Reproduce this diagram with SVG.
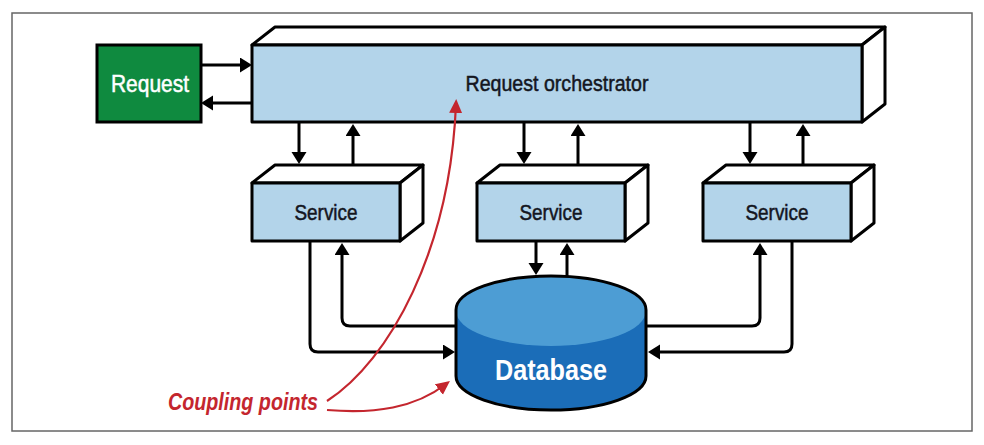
<svg xmlns="http://www.w3.org/2000/svg" width="984" height="445" viewBox="0 0 984 445">
<style>
.box{fill:#b3d4ea;stroke:#000;stroke-width:3;stroke-linejoin:round}
.face{fill:#fff;stroke:#000;stroke-width:3;stroke-linejoin:round}
.lbl{font-family:"Liberation Sans",Arial,sans-serif;fill:#14161f;stroke:#14161f;stroke-width:0.5;text-anchor:middle}
.con{fill:none;stroke:#000;stroke-width:3;stroke-linejoin:round}
.red{fill:none;stroke:#c4262e;stroke-width:2.2}
</style>
<defs>
<marker id="ah" markerUnits="userSpaceOnUse" markerWidth="13" markerHeight="16" refX="8" refY="7.5" orient="auto">
<path d="M0,0 L12,7.5 L0,15 Z" fill="#000"/>
</marker>
<marker id="rh" markerUnits="userSpaceOnUse" markerWidth="15" markerHeight="14" refX="9" refY="6.5" orient="auto">
<path d="M0,0 L14,6.5 L0,13 Z" fill="#c4262e"/>
</marker>
</defs>
<rect width="984" height="445" fill="#fff"/>
<rect x="12" y="13" width="960" height="418" fill="none" stroke="#666" stroke-width="1.5"/>

<g id="request">
<rect x="97" y="45" width="104" height="77" fill="#0f8a3f" stroke="#000" stroke-width="3"/>
<text x="150" y="92" class="lbl" style="fill:#fff;stroke:#fff" font-size="24" textLength="78" lengthAdjust="spacingAndGlyphs">Request</text>
</g>

<g id="orchestrator">
<polygon class="face" points="252,45 275,27 885,27 862,45"/>
<polygon class="face" points="862,45 885,27 885,104 862,122"/>
<rect class="box" x="252" y="45" width="610" height="77"/>
<text x="557" y="91" class="lbl" font-size="22.5" textLength="183" lengthAdjust="spacingAndGlyphs">Request orchestrator</text>
</g>

<g id="service1">
<polygon class="face" points="252,183 275,165 423,165 400,183"/>
<polygon class="face" points="400,183 423,165 423,223 400,241"/>
<rect class="box" x="252" y="183" width="148" height="58"/>
<text x="326" y="220" class="lbl" font-size="22" textLength="63" lengthAdjust="spacingAndGlyphs">Service</text>
</g>

<g id="service2">
<polygon class="face" points="477,183 500,165 648,165 625,183"/>
<polygon class="face" points="625,183 648,165 648,223 625,241"/>
<rect class="box" x="477" y="183" width="148" height="58"/>
<text x="551" y="220" class="lbl" font-size="22" textLength="63" lengthAdjust="spacingAndGlyphs">Service</text>
</g>

<g id="service3">
<polygon class="face" points="703,183 726,165 874,165 851,183"/>
<polygon class="face" points="851,183 874,165 874,223 851,241"/>
<rect class="box" x="703" y="183" width="148" height="58"/>
<text x="777" y="220" class="lbl" font-size="22" textLength="63" lengthAdjust="spacingAndGlyphs">Service</text>
</g>

<g id="database">
<path d="M456,310 A95,34 0 0 1 646,310 L646,376 A95,34 0 0 1 456,376 Z" fill="#1b6db8"/>
<ellipse cx="551" cy="311" rx="95" ry="35" fill="#4d9dd4"/>
<path d="M456,310 A95,34 0 0 1 646,310 L646,376 A95,34 0 0 1 456,376 Z" fill="none" stroke="#000" stroke-width="3"/>
<text x="551" y="380" class="lbl" style="fill:#fff;stroke:none;font-weight:bold" font-size="30" textLength="112" lengthAdjust="spacingAndGlyphs">Database</text>
</g>

<g id="connectors">
<path class="con" d="M201,65 H248" marker-end="url(#ah)"/>
<path class="con" d="M252,103 H205" marker-end="url(#ah)"/>
<path class="con" d="M299,122 V160" marker-end="url(#ah)"/>
<path class="con" d="M353,165 V128" marker-end="url(#ah)"/>
<path class="con" d="M524,122 V160" marker-end="url(#ah)"/>
<path class="con" d="M578,165 V128" marker-end="url(#ah)"/>
<path class="con" d="M750,122 V160" marker-end="url(#ah)"/>
<path class="con" d="M803,165 V128" marker-end="url(#ah)"/>
<path class="con" d="M310,241 V344 Q310,352 318,352 H451" marker-end="url(#ah)"/>
<path class="con" d="M456,326 H350 Q342,326 342,318 V247" marker-end="url(#ah)"/>
<path class="con" d="M536,241 V271" marker-end="url(#ah)"/>
<path class="con" d="M567,277 V247" marker-end="url(#ah)"/>
<path class="con" d="M792,241 V344 Q792,352 784,352 H652" marker-end="url(#ah)"/>
<path class="con" d="M646,326 H752 Q760,326 760,318 V247" marker-end="url(#ah)"/>
<path class="red" d="M327,401 C390,360 450,250 456,104" marker-end="url(#rh)"/>
<path class="red" d="M327,410 C375,414 415,408 446,384" marker-end="url(#rh)"/>
</g>

<text x="243" y="410" font-family="Liberation Sans,Arial,sans-serif" font-weight="bold" font-style="italic" font-size="24" fill="#c4262e" text-anchor="middle" textLength="150" lengthAdjust="spacingAndGlyphs">Coupling points</text>
</svg>
